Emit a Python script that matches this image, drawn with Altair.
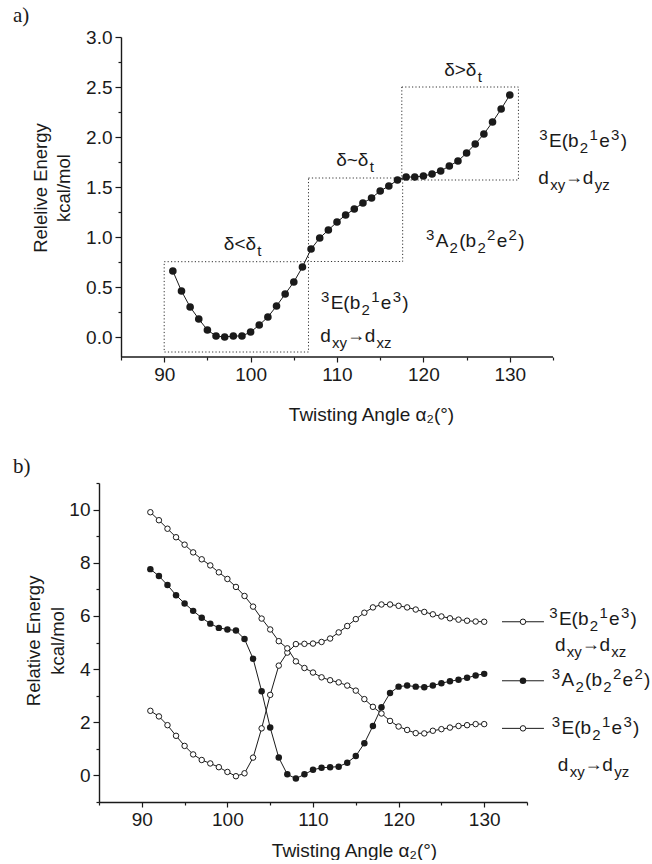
import altair as alt
import pandas as pd

FONT = "Liberation Sans"
SERIF = "Liberation Serif"
INK = "#1a1a1a"

# ---------------- data: panel a ----------------
a_angle = list(range(91, 131))
a_energy = [0.66, 0.46, 0.30, 0.18, 0.07, 0.01, 0.00, 0.01, 0.01, 0.05,
            0.12, 0.20, 0.31, 0.43, 0.55, 0.70, 0.88, 0.99, 1.07, 1.15,
            1.22, 1.28, 1.34, 1.39, 1.46, 1.51, 1.57, 1.60, 1.60, 1.61,
            1.63, 1.66, 1.71, 1.76, 1.84, 1.93, 2.03, 2.15, 2.28, 2.42]

box_x1 = [90.0, 106.7, 117.5]
box_x2 = [106.7, 117.6, 131.0]
box_y1 = [-0.15, 0.755, 1.57]
box_y2 = [0.753, 1.59, 2.50]

# ---------------- data: panel b ----------------
b_angle = list(range(91, 131))
b_E_xz = [2.43, 2.22, 1.89, 1.49, 1.11, 0.79, 0.58, 0.45, 0.31, 0.13,
          -0.03, 0.08, 0.67, 1.77, 3.03, 4.13, 4.62, 4.94, 4.95, 4.96,
          5.02, 5.15, 5.38, 5.62, 5.88, 6.12, 6.32, 6.43, 6.43, 6.38,
          6.32, 6.24, 6.15, 6.06, 5.98, 5.91, 5.86, 5.82, 5.79, 5.78]
b_A2 = [7.76, 7.50, 7.16, 6.78, 6.47, 6.19, 5.93, 5.71, 5.55, 5.49,
        5.45, 5.13, 4.39, 3.17, 1.80, 0.67, 0.04, -0.12, 0.04, 0.21,
        0.29, 0.31, 0.33, 0.48, 0.73, 1.21, 1.86, 2.56, 3.10, 3.34,
        3.38, 3.34, 3.32, 3.38, 3.47, 3.54, 3.60, 3.67, 3.76, 3.82]
b_E_yz = [9.90, 9.60, 9.28, 8.96, 8.68, 8.39, 8.13, 7.90, 7.64, 7.39,
          7.09, 6.75, 6.35, 5.90, 5.49, 5.05, 4.78, 4.29, 4.04, 3.87,
          3.69, 3.58, 3.50, 3.38, 3.19, 2.87, 2.58, 2.33, 2.05, 1.84,
          1.71, 1.59, 1.58, 1.68, 1.74, 1.80, 1.86, 1.89, 1.93, 1.93]

leg_y = [5.78, 3.56, 1.77]
leg_kind = ["open", "filled", "open"]
leg_x1, leg_xc, leg_x2 = 132.08, 134.53, 136.98

# ---------------- ticks / titles ----------------
X_TICKS = [85, 90, 95, 100, 105, 110, 115, 120, 125, 130, 135]
A_YTICKS = [0, 0.25, 0.5, 0.75, 1.0, 1.25, 1.5, 1.75, 2.0, 2.25, 2.5, 2.75, 3.0]
B_YTICKS = [-1, 0, 1, 2, 3, 4, 5, 6, 7, 8, 9, 10, 11]
X_TITLE = "Twisting Angle α₂(°)"

a_ytitle = ["Relelive Energy", "kcal/mol"]
a_ytitle_x = [75.75, 78.45]
a_ytitle_y = [1.49, 1.49]
b_ytitle = ["Relative Energy", "kcal/mol"]
b_ytitle_x = [77.45, 80.25]
b_ytitle_y = [5.06, 5.06]

# ---------------- rich text labels ----------------
E_SEG = [("3", "sup"), ("E(b", "n"), ("2", "sub"), ("1", "sup"), ("e", "n"), ("3", "sup"), (")", "n")]
A_SEG = [("3", "sup"), ("A", "n"), ("2", "sub"), ("(b", "n"), ("2", "sub"), ("2", "sup"), ("e", "n"), ("2", "sup"), (")", "n")]
DXZ_SEG = [("d", "n"), ("xy", "sub"), ("→", "arr"), ("d", "n"), ("xz", "sub")]
DYZ_SEG = [("d", "n"), ("xy", "sub"), ("→", "arr"), ("d", "n"), ("yz", "sub")]

a_labels = [
    (96.9, 0.87, [("δ<δ", "n"), ("t", "sub")]),
    (109.9, 1.71, [("δ~δ", "n"), ("t", "sub")]),
    (122.4, 2.61, [("δ>δ", "n"), ("t", "sub")]),
    (133.42, 1.90, E_SEG),
    (133.3, 1.53, DYZ_SEG),
    (120.3, 0.90, A_SEG),
    (108.15, 0.28, E_SEG),
    (108.06, -0.05, DXZ_SEG),
]
b_labels = [
    (137.6, 5.65, E_SEG),
    (138.27, 4.69, DXZ_SEG),
    (137.9, 3.37, A_SEG),
    (137.9, 1.56, E_SEG),
    (138.6, 0.18, DYZ_SEG),
]

FS_BASE = 19
FS_SMALL = 15
FS_ARR = 18
GAP = 1.3
CW = {"E": 667, "A": 667, "(": 333, ")": 333, "b": 556, "e": 556, "d": 556,
      "x": 500, "y": 500, "z": 500, "t": 278, "δ": 556, "<": 584, ">": 584,
      "~": 584, "→": 1000}
STYLE = {"n": (FS_BASE, 0), "sup": (FS_SMALL, -7), "sub": (FS_SMALL, 6), "arr": (FS_ARR, -1)}


def seg_rows(labels, ppu):
    rows = []
    for x0, y0, segs in labels:
        off = 0.0
        for txt, st in segs:
            fs = STYLE[st][0]
            if st == "arr":
                off -= 1.5
            rows.append({"x": x0 + off / ppu, "y": y0, "t": txt, "s": st})
            off += sum(CW.get(c, 556) for c in txt) * fs / 1000 + GAP
            if st == "arr":
                off -= 1.5
    return pd.DataFrame(rows)


def text_layers(df, xenc, yenc):
    out = []
    for st, (fs, dy) in STYLE.items():
        sub = df[df.s == st]
        if len(sub) == 0:
            continue
        out.append(
            alt.Chart(sub).mark_text(
                align="left", baseline="alphabetic", fontSize=fs, dy=dy, font=FONT, color=INK
            ).encode(x=xenc, y=yenc, text=alt.Text("t:N"))
        )
    return out


def ytitle_layer(titles, xs, ys, xenc, yenc):
    df = pd.DataFrame({"x": xs, "y": ys, "t": titles})
    return alt.Chart(df).mark_text(
        angle=270, align="center", baseline="middle", font=FONT, fontSize=18.5, color=INK
    ).encode(x=xenc, y=yenc, text=alt.Text("t:N"))


# ---------------- panel a ----------------
# panel a's plot area is widened 22 px to the left so that both panels share a left edge;
# its y axis is pulled back in to sit at 85 degrees.
PPU_A = 432 / 50
SHIFT_A = 22
xa = alt.X("x:Q", scale=alt.Scale(domain=[85 - SHIFT_A / PPU_A, 135], nice=False, zero=False),
           axis=alt.Axis(
               values=X_TICKS, domain=False,
               labelExpr="datum.value % 10 === 0 ? datum.label : ''",
               tickSize={"condition": {"test": "datum.value % 10 !== 0", "value": 3}, "value": 5},
               title=X_TITLE, titleX=272, titleY=57, titleAlign="center", titleBaseline="middle",
           ))
ya = alt.Y("y:Q", scale=alt.Scale(domain=[-0.2, 3.0], nice=False, zero=False),
           axis=alt.Axis(
               values=A_YTICKS, offset=-SHIFT_A,
               labelExpr="abs(datum.value*2 - round(datum.value*2)) < 0.001 ? format(datum.value, '.1f') : ''",
               tickSize={"condition": {"test": "abs(datum.value*2 - round(datum.value*2)) > 0.001", "value": 3}, "value": 6},
               title=None,
           ))

df_a = pd.DataFrame({"x": a_angle, "y": a_energy})
df_box = pd.DataFrame({"x": box_x1, "x2": box_x2, "y": box_y1, "y2": box_y2})
df_atxt = seg_rows(a_labels, PPU_A)
df_alab = pd.DataFrame({"x": [72.5], "y": [3.15], "t": ["a)"]})
df_abase = pd.DataFrame({"x": [85], "x2": [135], "y": [-0.2]})

base_a = alt.Chart(df_abase).mark_rule(color=INK, strokeWidth=1.4).encode(x=xa, x2="x2:Q", y=ya)
boxes = alt.Chart(df_box).mark_rect(
    fillOpacity=0, stroke="#333", strokeWidth=1, strokeDash=[1.2, 2.2]
).encode(x=xa, x2="x2:Q", y=ya, y2="y2:Q")
line_a = alt.Chart(df_a).mark_line(color=INK, strokeWidth=1).encode(x=xa, y=ya)
pts_a = alt.Chart(df_a).mark_point(filled=True, color=INK, size=58, opacity=1, shape="circle").encode(x=xa, y=ya)
lab_a = alt.Chart(df_alab).mark_text(align="left", baseline="alphabetic", font=SERIF, fontSize=21, color=INK).encode(
    x=xa, y=ya, text=alt.Text("t:N"))

chart_a = alt.layer(
    base_a, boxes, line_a, pts_a, *text_layers(df_atxt, xa, ya), lab_a,
    ytitle_layer(a_ytitle, a_ytitle_x, a_ytitle_y, xa, ya),
).properties(width=432 + SHIFT_A, height=320)

# ---------------- panel b ----------------
PPU_B = 428 / 50


def xb_enc(field):
    return alt.X(field, scale=alt.Scale(domain=[85, 135], nice=False, zero=False),
                 axis=alt.Axis(
                     values=X_TICKS,
                     labelExpr="datum.value % 10 === 0 ? datum.label : ''",
                     tickSize={"condition": {"test": "datum.value % 10 !== 0", "value": 3}, "value": 5},
                     title=X_TITLE, titleX=255, titleY=48, titleAlign="center", titleBaseline="middle",
                 ))


xb = xb_enc("x:Q")
xb_c = xb_enc("xc:Q")
yb = alt.Y("y:Q", scale=alt.Scale(domain=[-1, 11], nice=False, zero=False),
           axis=alt.Axis(
               values=B_YTICKS,
               labelExpr="datum.value % 2 === 0 ? datum.label : ''",
               tickSize={"condition": {"test": "datum.value % 2 !== 0", "value": 3}, "value": 6},
               title=None,
           ))

df_b = pd.concat([
    pd.DataFrame({"x": b_angle, "y": b_E_xz, "series": "E_xz"}),
    pd.DataFrame({"x": b_angle, "y": b_A2, "series": "A2"}),
    pd.DataFrame({"x": b_angle, "y": b_E_yz, "series": "E_yz"}),
])
df_leg = pd.DataFrame({"x": [leg_x1] * 3, "x2": [leg_x2] * 3, "xc": [leg_xc] * 3, "y": leg_y, "kind": leg_kind})
df_btxt = seg_rows(b_labels, PPU_B)
df_blab = pd.DataFrame({"x": [74.95], "y": [11.36], "t": ["b)"]})

line_b = alt.Chart(df_b).mark_line(color=INK, strokeWidth=1).encode(x=xb, y=yb, detail="series:N")
leg_rule = alt.Chart(df_leg).mark_rule(color=INK, strokeWidth=1).encode(x=xb, x2="x2:Q", y=yb)
open_b = alt.Chart(df_b[df_b.series != "A2"]).mark_point(
    shape="circle", filled=True, fill="white", stroke=INK, strokeWidth=1, size=30, opacity=1
).encode(x=xb, y=yb)
fill_b = alt.Chart(df_b[df_b.series == "A2"]).mark_point(
    shape="circle", filled=True, color=INK, size=42, opacity=1
).encode(x=xb, y=yb)
leg_open = alt.Chart(df_leg[df_leg.kind == "open"]).mark_point(
    shape="circle", filled=True, fill="white", stroke=INK, strokeWidth=1, size=30, opacity=1
).encode(x=xb_c, y=yb)
leg_fill = alt.Chart(df_leg[df_leg.kind == "filled"]).mark_point(
    shape="circle", filled=True, color=INK, size=42, opacity=1
).encode(x=xb_c, y=yb)
lab_b = alt.Chart(df_blab).mark_text(align="left", baseline="alphabetic", font=SERIF, fontSize=21, color=INK).encode(
    x=xb, y=yb, text=alt.Text("t:N"))

chart_b = alt.layer(
    line_b, leg_rule, open_b, fill_b, leg_open, leg_fill,
    *text_layers(df_btxt, xb, yb), lab_b,
    ytitle_layer(b_ytitle, b_ytitle_x, b_ytitle_y, xb, yb),
).properties(width=428, height=319)

chart = alt.vconcat(chart_a, chart_b, spacing=32).properties(
    padding={"left": 12, "top": 5, "right": 0, "bottom": 0},
    background="white",
).configure_view(stroke=None).configure_axis(
    grid=False, domainColor=INK, domainWidth=1.4, tickColor=INK, tickWidth=1.2,
    labelFont=FONT, labelFontSize=19, labelColor=INK, labelPadding=3,
    labelOverlap=False, labelFlush=False,
    titleFont=FONT, titleFontSize=19, titleFontWeight="normal", titleColor=INK,
)

chart.save("out.html", embed_options={"renderer": "svg", "actions": False})
